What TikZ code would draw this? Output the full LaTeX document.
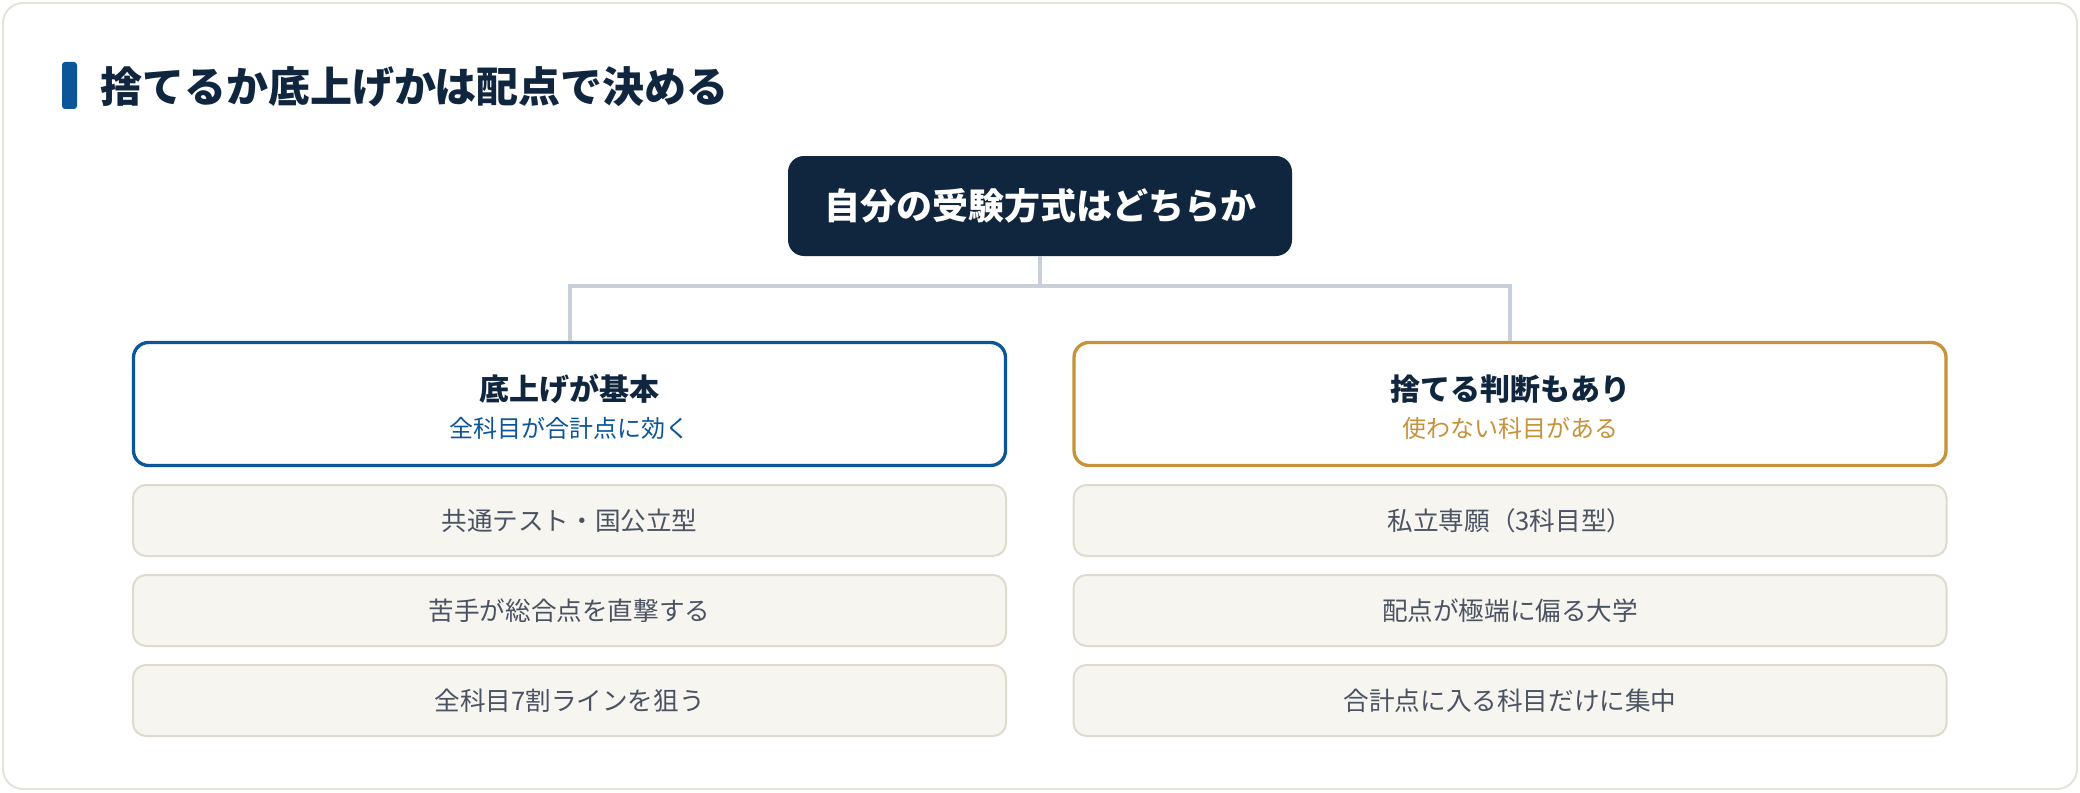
\documentclass[tikz,border=0pt]{standalone}
\usepackage{fontspec}
\setmainfont{Noto Sans CJK JP}
\definecolor{navy}{HTML}{10263F}
\definecolor{keyblue}{HTML}{0B5598}
\definecolor{gold}{HTML}{C6923A}
\definecolor{linkgray}{HTML}{C8CFD9}
\definecolor{itemfill}{HTML}{F6F5F0}
\definecolor{itemline}{HTML}{DEDBCD}
\definecolor{frameline}{HTML}{E6E4D9}
\definecolor{itemtext}{HTML}{4B5362}
\begin{document}
\begin{tikzpicture}[x=0.5pt,y=-0.5pt]
	\tikzset{
	headbox/.style={draw=#1,line width=1.65pt,rounded corners=7.5pt,fill=white,
		minimum width=436pt,minimum height=61.5pt,inner sep=0pt},
	itembox/.style={draw=itemline,line width=1pt,rounded corners=6.5pt,fill=itemfill,
		minimum width=436.5pt,minimum height=35.5pt,inner sep=0pt,
		text=itemtext,font=\fontsize{12.8}{15}\selectfont},
	link/.style={linkgray,line width=2pt},
	}
	\useasboundingbox (0,0) rectangle (2080,792);
	%FRAME
	\draw[frameline,line width=1pt,rounded corners=10pt,fill=white] (3,3) rectangle (2077,789);
	%TITLE
	\fill[keyblue,rounded corners=1.5pt] (62,62) rectangle (77,109);
	\node[anchor=west,inner sep=0pt,text=navy,font=\fontsize{21}{25}\selectfont\bfseries] (title) at (100,87) {捨てるか底上げかは配点で決める};

	%ROOT
	\node[fill=navy,rounded corners=8pt,minimum width=252pt,minimum height=50pt,inner sep=0pt,
		text=white,font=\fontsize{18}{22}\selectfont\bfseries] (root) at (1040,206) {自分の受験方式はどちらか};

	%LEFT
	\node[headbox=keyblue] (lhead) at (569.5,404) {};
	\node[text=navy,inner sep=0pt,font=\fontsize{15}{18}\selectfont\bfseries] (ltitle) at (569.5,389) {底上げが基本};
	\node[text=keyblue,inner sep=0pt,font=\fontsize{12}{14}\selectfont] (lsub) at (569.5,428) {全科目が合計点に効く};
	\node[itembox] (l1) at (569.5,520.5) {共通テスト・国公立型};
	\node[itembox] (l2) at (569.5,610.5) {苦手が総合点を直撃する};
	\node[itembox] (l3) at (569.5,700.5) {全科目7割ラインを狙う};

	%RIGHT
	\node[headbox=gold] (rhead) at (1510,404) {};
	\node[text=navy,inner sep=0pt,font=\fontsize{15}{18}\selectfont\bfseries] (rtitle) at (1510,389) {捨てる判断もあり};
	\node[text=gold,inner sep=0pt,font=\fontsize{12}{14}\selectfont] (rsub) at (1510,428) {使わない科目がある};
	\node[itembox] (r1) at (1510,520.5) {私立専願（3科目型）};
	\node[itembox] (r2) at (1510,610.5) {配点が極端に偏る大学};
	\node[itembox] (r3) at (1510,700.5) {合計点に入る科目だけに集中};

	%LINKS
	\coordinate (fork) at (1040,286);
	\draw[link] (root.south) -- (fork);
	\draw[link] (fork) -| (lhead.north);
	\draw[link] (fork) -| (rhead.north);
\end{tikzpicture}
\end{document}
